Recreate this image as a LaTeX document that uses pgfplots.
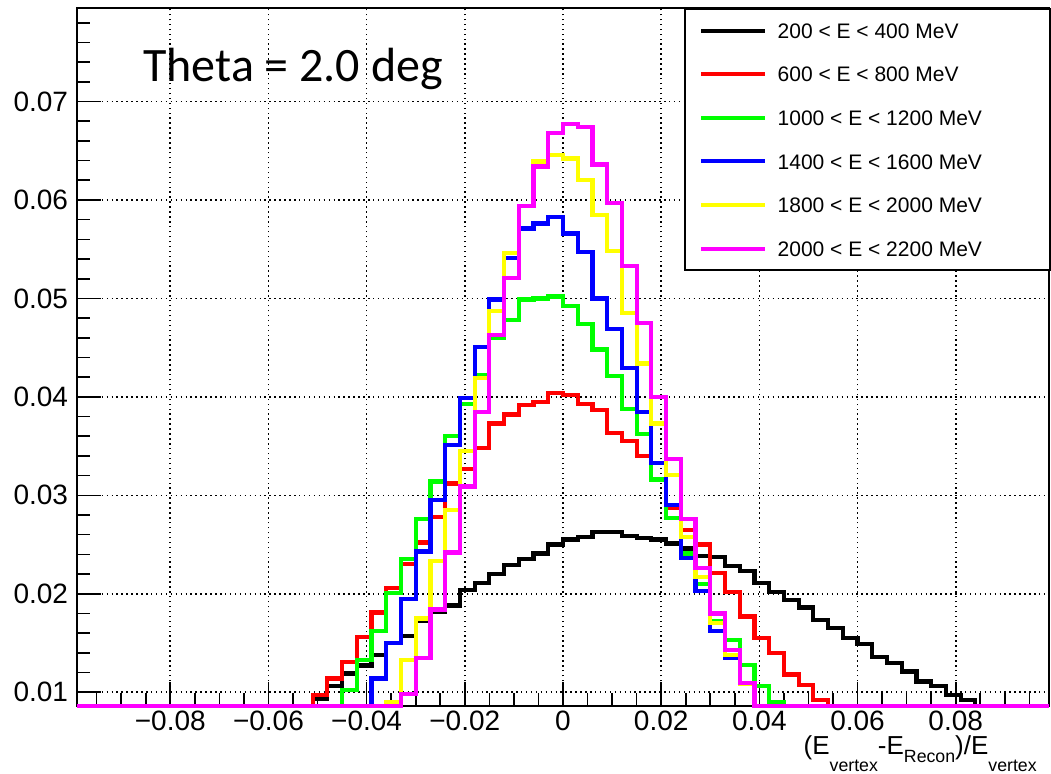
\documentclass[border=0pt]{standalone}
\usepackage{pgfplots}
\pgfplotsset{compat=1.18}
\usepackage{pgfplotstable}
\usepackage{fontspec}
\setmainfont{Liberation Sans}
\newfontfamily\calibri{Carlito}

\definecolor{hred}{RGB}{255,0,0}
\definecolor{hgreen}{RGB}{0,255,0}
\definecolor{hblue}{RGB}{0,0,255}
\definecolor{hyellow}{RGB}{255,255,0}
\definecolor{hmagenta}{RGB}{255,0,255}

% Normalised histograms, 66 bins of width 0.003 on [-0.099, 0.099].
% x = lower bin edge; empty bins are 0 and sit on the frame floor.
\pgfplotstableread{
x       s1      s2      s3      s4      s5      s6
-0.099  0       0       0       0       0       0
-0.054  0       0       0       0       0       0
-0.051  0.0093  0.0097  0       0       0       0
-0.048  0.0106  0.0114  0       0       0       0
-0.045  0.0119  0.0131  0.0102  0       0       0
-0.042  0.0127  0.0156  0.0133  0       0       0
-0.039  0.0138  0.0181  0.0162  0.0114  0       0
-0.036  0.0150  0.0206  0.0201  0.0150  0.0090  0
-0.033  0.0157  0.0230  0.0235  0.0195  0.0133  0.0098
-0.030  0.0172  0.0252  0.0276  0.0243  0.0175  0.0135
-0.027  0.0182  0.0278  0.0314  0.0295  0.0233  0.0184
-0.024  0.0188  0.0312  0.0360  0.0351  0.0285  0.0242
-0.021  0.0204  0.0327  0.0393  0.0399  0.0345  0.0309
-0.018  0.0211  0.0348  0.0422  0.0451  0.0419  0.0385
-0.015  0.0220  0.0373  0.0460  0.0499  0.0487  0.0463
-0.012  0.0229  0.0382  0.0478  0.0541  0.0546  0.0521
-0.009  0.0235  0.0392  0.0499  0.0571  0.0594  0.0594
-0.006  0.0241  0.0395  0.0500  0.0576  0.0639  0.0634
-0.003  0.0250  0.0404  0.0502  0.0583  0.0646  0.0668
0.000   0.0255  0.0402  0.0492  0.0566  0.0642  0.0677
0.003   0.0258  0.0393  0.0474  0.0547  0.0620  0.0674
0.006   0.0263  0.0387  0.0448  0.0500  0.0585  0.0636
0.009   0.0263  0.0363  0.0421  0.0469  0.0548  0.0597
0.012   0.0259  0.0355  0.0388  0.0429  0.0485  0.0533
0.015   0.0257  0.0340  0.0362  0.0385  0.0434  0.0475
0.018   0.0255  0.0333  0.0316  0.0333  0.0373  0.0400
0.021   0.0251  0.0287  0.0277  0.0290  0.0321  0.0337
0.024   0.0246  0.0265  0.0241  0.0236  0.0258  0.0276
0.027   0.0238  0.0250  0.0210  0.0203  0.0217  0.0226
0.030   0.0237  0.0221  0.0172  0.0162  0.0170  0.0180
0.033   0.0228  0.0202  0.0153  0.0135  0.0138  0.0143
0.036   0.0223  0.0177  0.0128  0.0108  0.0108  0.0109
0.039   0.0211  0.0155  0.0106  0       0       0
0.042   0.0202  0.0140  0.0090  0       0       0
0.045   0.0194  0.0118  0       0       0       0
0.048   0.0186  0.0107  0       0       0       0
0.051   0.0173  0.0092  0       0       0       0
0.054   0.0165  0       0       0       0       0
0.057   0.0155  0       0       0       0       0
0.060   0.0149  0       0       0       0       0
0.063   0.0136  0       0       0       0       0
0.066   0.0130  0       0       0       0       0
0.069   0.0121  0       0       0       0       0
0.072   0.0111  0       0       0       0       0
0.075   0.0106  0       0       0       0       0
0.078   0.0097  0       0       0       0       0
0.081   0.0092  0       0       0       0       0
0.084   0       0       0       0       0       0
0.099   0       0       0       0       0       0
}\histdata

\newcommand{\sub}[2][-12.5pt]{\raisebox{#1}{\fontsize{13.3}{14}\selectfont #2}}
\newcommand{\entry}[1]{\makebox[194pt][l]{#1}}

\begin{document}
\begin{tikzpicture}
\path[use as bounding box] (0,0) rectangle (788.25pt,580.5pt);
\begin{axis}[
  at={(57.75pt,51pt)}, anchor=south west,
  scale only axis, width=729pt, height=523.5pt,
  xmin=-0.099, xmax=0.099, ymin=0.0086, ymax=0.0795,
  scaled ticks=false,
  xtick={-0.08,-0.06,-0.04,-0.02,0,0.02,0.04,0.06,0.08},
  xticklabels={−0.08,−0.06,−0.04,−0.02,0,0.02,0.04,0.06,0.08},
  ytick={0.01,0.02,0.03,0.04,0.05,0.06,0.07},
  yticklabels={0.01,0.02,0.03,0.04,0.05,0.06,0.07},
  minor xtick={-0.095,-0.09,-0.085,-0.075,-0.07,-0.065,-0.055,-0.05,-0.045,-0.035,-0.03,-0.025,-0.015,-0.01,-0.005,0.005,0.01,0.015,0.025,0.03,0.035,0.045,0.05,0.055,0.065,0.07,0.075,0.085,0.09,0.095},
  minor ytick={0.012,0.014,0.016,0.018,0.022,0.024,0.026,0.028,0.032,0.034,0.036,0.038,0.042,0.044,0.046,0.048,0.052,0.054,0.056,0.058,0.062,0.064,0.066,0.068,0.072,0.074,0.076,0.078},
  xtick pos=bottom, ytick pos=left,
  tick align=inside,
  major tick length=18pt, minor tick length=9.5pt,
  tick style={black, line width=1.2pt},
  axis line style={line width=1.5pt},
  grid=major,
  major grid style={black, line width=1.2pt, dash pattern=on 1.1pt off 2.6pt},
  ticklabel style={font=\fontsize{21}{25}\selectfont},
  yticklabel style={inner sep=6.5pt},
  xlabel={(E\sub{vertex}-E\sub[-6pt]{Recon})/E\sub{vertex}},
  xlabel style={at={(rel axis cs:1,0)}, anchor=base east, yshift=-36.75pt, xshift=-9pt,
    font=\fontsize{19.5}{22}\selectfont, inner sep=0pt},
  clip=false,
  y filter/.expression={y<0.0086 ? 0.0086 : y},
  legend style={at={(rel axis cs:0.6245,1)}, anchor=north west,
    draw=black, line width=1.5pt, fill=white,
    font=\fontsize{15.75}{18}\selectfont,
    inner xsep=10.5pt, inner ysep=10.5pt,
    row sep=21.2pt, column sep=8pt,
    nodes={inner sep=0pt, text height=11.5pt, text depth=0pt}},
  legend cell align=left,
  legend image code/.code={\draw[#1, line width=3pt] (0pt,0pt) -- (48pt,0pt);},
]
\addplot[const plot mark left, line width=3.2pt, black]    table[x=x, y=s1] {\histdata};
\addlegendentry{\entry{200 < E < 400 MeV}}
\addplot[const plot mark left, line width=3.2pt, hred]     table[x=x, y=s2] {\histdata};
\addlegendentry{\entry{600 < E < 800 MeV}}
\addplot[const plot mark left, line width=3.2pt, hgreen]   table[x=x, y=s3] {\histdata};
\addlegendentry{\entry{1000 < E < 1200 MeV}}
\addplot[const plot mark left, line width=3.2pt, hblue]    table[x=x, y=s4] {\histdata};
\addlegendentry{\entry{1400 < E < 1600 MeV}}
\addplot[const plot mark left, line width=3.2pt, hyellow]  table[x=x, y=s5] {\histdata};
\addlegendentry{\entry{1800 < E < 2000 MeV}}
\addplot[const plot mark left, line width=3.2pt, hmagenta] table[x=x, y=s6] {\histdata};
\addlegendentry{\entry{2000 < E < 2200 MeV}}
\node[anchor=base west, font=\calibri\fontsize{36}{40}\selectfont, inner sep=0pt]
  at (rel axis cs:0.0679,0.894) {Theta = 2.0 deg};
\end{axis}
\end{tikzpicture}
\end{document}
